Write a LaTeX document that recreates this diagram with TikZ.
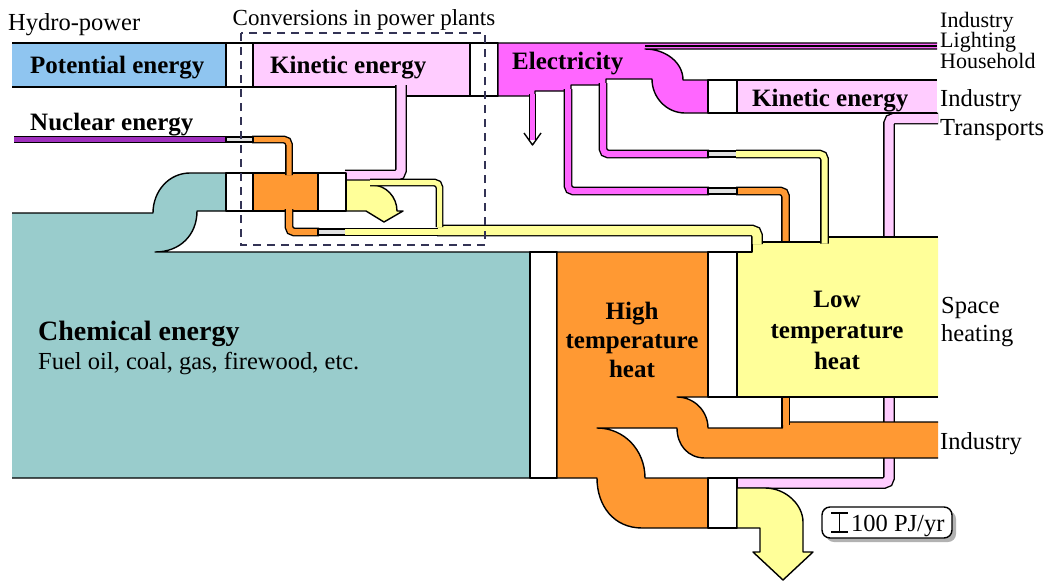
\documentclass[tikz,border=0pt]{standalone}
\usepackage{fontspec}
\setmainfont{Liberation Serif}
\usepackage{tikz}

\definecolor{potblue}{RGB}{143,197,240}
\definecolor{kinpink}{RGB}{255,204,255}
\definecolor{elecmag}{RGB}{255,102,255}
\definecolor{nucpurple}{RGB}{160,48,190}
\definecolor{chemteal}{RGB}{153,204,204}
\definecolor{hotorange}{RGB}{255,153,51}
\definecolor{lowyellow}{RGB}{255,255,153}
\definecolor{gapgray}{RGB}{225,225,225}
\definecolor{dashnavy}{RGB}{51,51,85}

\tikzset{
  rim/.style={line width=1.4pt, line join=round},
  pipe/.style 2 args={draw=black, line width=#2+2.8pt, rounded corners=5pt,
    postaction={draw=#1, line width=#2}},
  gapbox/.style={fill=gapgray, draw=black, line width=1.2pt},
  lab/.style={inner sep=0pt, font=\fontsize{24.5}{25}\selectfont},
  blab/.style={inner sep=0pt, font=\bfseries\fontsize{25}{29}\selectfont, align=center},
  slab/.style={inner sep=0pt, font=\fontsize{22}{22}\selectfont},
}

\begin{document}
\begin{tikzpicture}[x=1pt, y=-1pt]
\useasboundingbox (0,0) rectangle (1052,584);

% strips that pass behind the heat boxes
\draw[pipe={kinpink}{9pt}] (938,118.5) -- (889,118.5) -- (889,483) -- (736,483);
\draw[pipe={hotorange}{6pt}] (736,191) -- (785.5,191) -- (785.5,430);

% chemical energy
\filldraw[rim, fill=chemteal] (12,213) -- (153,213) .. controls (153,191) and (169,173) .. (190,173)
  -- (226,173) -- (226,211) -- (197,211) .. controls (197,235) and (180,252) .. (155,252)
  -- (530,252) -- (530,478) -- (12,478);
\filldraw[rim, fill=white] (530,252) rectangle (557,478);

% high temperature heat
\filldraw[rim, fill=hotorange] (938,458) -- (705,458) .. controls (688,458) and (677,445) .. (677,428)
  -- (597,428) .. controls (624,428) and (645,450) .. (645,478) -- (708,478) -- (708,528)
  -- (642,528) .. controls (614,528) and (597,506) .. (597,478) -- (557,478) -- (557,252)
  -- (708,252) -- (708,397) -- (677,397) .. controls (694,397) and (708,411) .. (708,428)
  -- (782.5,428) -- (782.5,422) -- (938,422);
\filldraw[rim, fill=white] (708,252) rectangle (737,397);
\filldraw[rim, fill=white] (708,478) rectangle (737,528);

% low temperature heat
\filldraw[rim, fill=lowyellow] (938,397) -- (737,397) -- (737,252) -- (752,252) -- (752,242)
  -- (821.5,242) -- (821.5,237) -- (938,237);
\filldraw[rim, fill=lowyellow] (737,488) -- (765,488) .. controls (786,488) and (803,505) .. (803,522)
  -- (803,552) -- (813,552) -- (783,580) -- (753,552) -- (760,552) -- (760,528) -- (737,528) -- cycle;
\draw[pipe={hotorange}{6pt}] (785.5,398) -- (785.5,425);

% top row
\filldraw[rim, fill=potblue] (12,43) -- (226,43) -- (226,87) -- (12,87);
\filldraw[rim, fill=white] (226,43) rectangle (253,87);
\filldraw[rim, fill=kinpink] (253,43) -- (470,43) -- (470,96) -- (405.5,96) -- (405.5,87) -- (253,87) -- cycle;
\filldraw[rim, fill=white] (470,43) rectangle (498,96);
\filldraw[rim, fill=elecmag] (937,49) -- (645,49) .. controls (665,49) and (683,62) .. (683,80)
  -- (708,80) -- (708,113) -- (685,113) .. controls (667,113) and (652,98) .. (652,79)
  -- (606,79) -- (606,85) -- (571,85) -- (571,91) -- (535,91) -- (535,96) -- (498,96)
  -- (498,43) -- (937,43);
\draw[rim] (645,46) -- (937,46);
\filldraw[rim, fill=white] (708,80) rectangle (737,113);
\filldraw[rim, fill=kinpink] (937,80) -- (737,80) -- (737,113) -- (937,113);

% electricity outflows
\draw[pipe={elecmag}{5pt}] (532.5,94) -- (532.5,140);
\draw[rim] (524,133) -- (532.5,145) -- (541,133);
\draw[pipe={elecmag}{6pt}] (568,89) -- (568,191) -- (709,191);
\draw[pipe={elecmag}{6pt}] (603,83) -- (603,154) -- (709,154);
\filldraw[gapbox] (708,188) rectangle (737,194);
\filldraw[gapbox] (708,151) rectangle (737,157);
\draw[pipe={lowyellow}{6pt}] (736,154) -- (824.5,154) -- (824.5,243.5);

% power plants
\filldraw[rim, fill=hotorange] (253,173) rectangle (318,211);
\draw[pipe={nucpurple}{5pt}] (14,139.5) -- (227,139.5);
\draw[pipe={hotorange}{5pt}] (252,139.5) -- (289,139.5) -- (289,175);
\filldraw[gapbox] (226,137) rectangle (253,142);
\draw[pipe={hotorange}{6pt}] (289,209) -- (289,232) -- (319,232);
\filldraw[gapbox] (318,229) rectangle (346,235);
\draw[pipe={kinpink}{9pt}] (345,175.5) -- (401,175.5) -- (401,85);
\filldraw[rim, fill=lowyellow] (346,180) -- (372,180) -- (372,185) .. controls (386,185) and (397,197) .. (397,211)
  -- (403,211) -- (384,222) -- (366,211) -- (346,211) -- cycle;
\draw[pipe={lowyellow}{9pt}] (437,230.5) -- (757,230.5) -- (757,244);
\draw[pipe={lowyellow}{6pt}] (345,232) -- (438,232);
\draw[pipe={lowyellow}{5pt}] (370,182.5) -- (439.5,182.5) -- (439.5,227);
\filldraw[rim, fill=white] (226,173) rectangle (253,211);
\filldraw[rim, fill=white] (318,173) rectangle (346,211);
\draw[dashnavy, line width=1.6pt, dash pattern=on 8pt off 6pt] (241,33) rectangle (485,245);

% labels
\node[lab, anchor=base west] (hydro) at (8,30) {Hydro-power};
\node[lab, anchor=base, font=\fontsize{23}{24}\selectfont] (plants) at (364,25) {Conversions in power plants};
\node[blab, anchor=base west] (potential) at (30,73) {Potential energy};
\node[blab, anchor=base west] (kinetic) at (270,73) {Kinetic energy};
\node[blab, anchor=base west] (electricity) at (512,69) {Electricity};
\node[blab, anchor=base west] (nuclear) at (30,130) {Nuclear energy};
\node[blab, anchor=base west] (motors) at (752,106) {Kinetic energy};
\node[blab, anchor=base west, font=\bfseries\fontsize{28}{30}\selectfont] (chemical) at (38,340) {Chemical energy};
\node[lab, anchor=base west] (fuels) at (38,369) {Fuel oil, coal, gas, firewood, etc.};
\node[blab] (hightemp) at (632,340) {High\\temperature\\heat};
\node[blab, font=\bfseries\fontsize{25}{31}\selectfont] (lowtemp) at (837,330) {Low\\temperature\\heat};
\node[lab, anchor=west, align=left, font=\fontsize{24.5}{28}\selectfont] (space) at (941,322) {Space\\heating};
\node[lab, anchor=base west] (industryheat) at (940,449) {Industry};
\node[slab, anchor=base west] (industrytop) at (940,27) {Industry};
\node[slab, anchor=base west] (lighting) at (940,47.5) {Lighting};
\node[slab, anchor=base west] (household) at (940,68) {Household};
\node[lab, anchor=base west] (industrymotor) at (940,106) {Industry};
\node[lab, anchor=base west] (transports) at (940,135) {Transports};

% scale
\fill[gray!60, rounded corners=8pt] (826,511) rectangle (956,542);
\filldraw[rim, fill=white, rounded corners=8pt] (822,507) rectangle (952,538);
\draw[rim] (831,513) -- (848,513) (839.5,513) -- (839.5,532) (831,532) -- (848,532);
\node[lab, anchor=base west] (scale) at (851,531) {100 PJ/yr};
\end{tikzpicture}
\end{document}
